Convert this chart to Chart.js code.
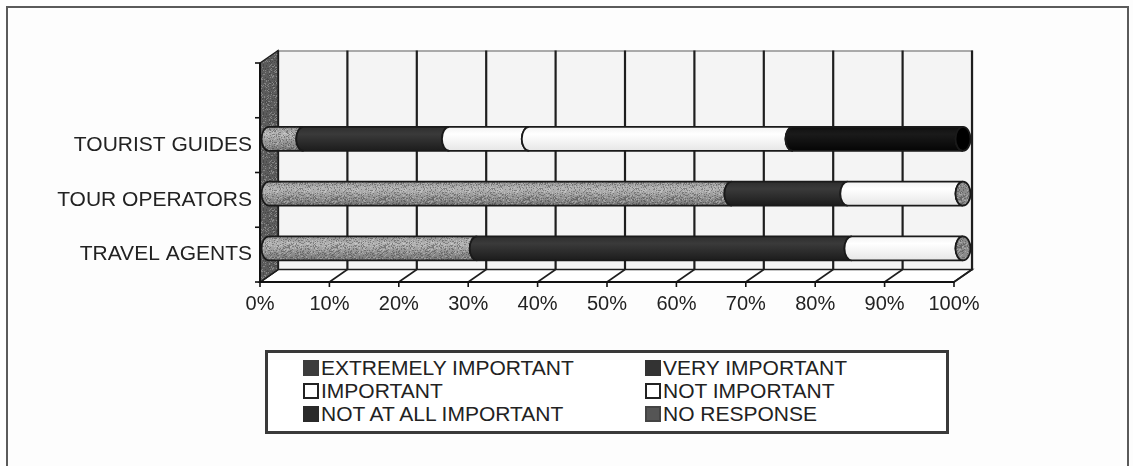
<!DOCTYPE html>
<html>
<head>
<meta charset="utf-8">
<script src="https://cdn.jsdelivr.net/npm/chart.js@4.4.0/dist/chart.umd.min.js"></script>
<style>
  html, body { margin: 0; padding: 0; background: #ffffff; }
  #wrap { position: relative; width: 1133px; height: 466px; overflow: hidden; background: #fdfdfd; }
  #frame { position: absolute; left: 6px; top: 6px; width: 1123px; height: 462px; box-sizing: border-box;
           border: 2px solid #5a5a5a; pointer-events: none; }
  #chart { position: absolute; left: 0; top: 0; }
  #legend { position: absolute; left: 265px; top: 350px; width: 684px; height: 84px; box-sizing: border-box;
            border: 3px solid #3a3a3a; background: #ffffff;
            font-family: "Liberation Sans", Arial, sans-serif; font-size: 21px; color: #222; }
  .item { position: absolute; height: 23px; display: flex; align-items: center; white-space: nowrap; }
  .sw { width: 16px; height: 16px; box-sizing: border-box; margin-right: 2px; flex: none; }
</style>
</head>
<body>
<div id="wrap">
  <canvas id="chart" width="1133" height="466"></canvas>
  <div id="frame"></div>
  <div id="legend"></div>
</div>
<script>
// Survey answers, percent of respondents per group
const categories = ['', 'TOURIST GUIDES', 'TOUR OPERATORS', 'TRAVEL AGENTS'];
const extremelyImportant = [null, 5, 66.7, 30];
const veryImportant      = [null, 21, 16.7, 54];
const important          = [null, 11.5, 16.6, 16];
const notImportant       = [null, 38, 0, 0];
const notAtAllImportant  = [null, 24.5, 0, 0];
const noResponse         = [null, 0, 0, 0];
const seriesNames = ['EXTREMELY IMPORTANT', 'VERY IMPORTANT', 'IMPORTANT',
                     'NOT IMPORTANT', 'NOT AT ALL IMPORTANT', 'NO RESPONSE'];
const tickLabels = ['0%', '10%', '20%', '30%', '40%', '50%', '60%', '70%', '80%', '90%', '100%'];

const seriesData = [extremelyImportant, veryImportant, important, notImportant, notAtAllImportant, noResponse];

// Cylinder shading per series: [top, highlight, bottom, end cap]
const shades = [
  ['#8e8e8e', '#b4b4b4', '#747474', '#6a6a6a'],
  ['#2e2e2e', '#3a3a3a', '#1c1c1c', '#161616'],
  ['#f2f2f2', '#ffffff', '#e6e6e6', '#8a8a8a'],
  ['#f2f2f2', '#ffffff', '#e6e6e6', '#8a8a8a'],
  ['#101010', '#1a1a1a', '#050505', '#000000'],
  ['#808080', '#a0a0a0', '#6a6a6a', '#5a5a5a']
];
const legendSwatch = [
  { fill: '#3c3c3c', border: '#3c3c3c' },
  { fill: '#333333', border: '#333333' },
  { fill: '#ffffff', border: '#222222' },
  { fill: '#ffffff', border: '#222222' },
  { fill: '#2a2a2a', border: '#2a2a2a' },
  { fill: '#555555', border: '#444444' }
];
const speckled = [true, false, false, false, false, true];

const FONT = '"Liberation Sans", Arial, sans-serif';
const DX = 18, DY = -12.5;          // depth of the 3-D box (back wall offset)
const MX = DX / 2, MY = DY / 2;     // bars sit half way into the box

// small deterministic grain texture for the grey surfaces
function makeGrain() {
  const c = document.createElement('canvas');
  c.width = 48; c.height = 48;
  const g = c.getContext('2d');
  for (let yy = 0; yy < 48; yy++) {
    for (let xx = 0; xx < 48; xx++) {
      const h = Math.abs(Math.sin(xx * 12.9898 + yy * 78.233) * 43758.5453) % 1;
      if (h < 0.22) { g.fillStyle = 'rgba(40,40,40,0.35)'; g.fillRect(xx, yy, 1, 1); }
      else if (h > 0.85) { g.fillStyle = 'rgba(255,255,255,0.25)'; g.fillRect(xx, yy, 1, 1); }
    }
  }
  return c;
}
const grainCanvas = makeGrain();

const scenePlugin = {
  id: 'scene3d',
  beforeDatasetsDraw(chart) {
    const { ctx, chartArea: a, scales: { x } } = chart;
    const grain = ctx.createPattern(grainCanvas, 'repeat');
    const L = a.left, R = a.right, T = a.top, B = a.bottom;
    ctx.save();
    // back wall
    ctx.fillStyle = '#f4f4f4';
    ctx.fillRect(L + DX, T + DY, R - L, B - T);
    ctx.strokeStyle = '#777'; ctx.lineWidth = 1.2;
    ctx.strokeRect(L + DX + 0.5, T + DY + 0.5, R - L, B - T);
    // vertical gridlines on the back wall
    ctx.strokeStyle = '#1e1e1e'; ctx.lineWidth = 2.2;
    for (let v = 0; v <= 100; v += 10) {
      const px = x.getPixelForValue(v) + DX;
      ctx.beginPath(); ctx.moveTo(px, T + DY); ctx.lineTo(px, B + DY); ctx.stroke();
    }
    // floor
    ctx.beginPath();
    ctx.moveTo(L, B); ctx.lineTo(R, B); ctx.lineTo(R + DX, B + DY); ctx.lineTo(L + DX, B + DY); ctx.closePath();
    ctx.fillStyle = '#ffffff'; ctx.fill();
    ctx.strokeStyle = '#1e1e1e'; ctx.lineWidth = 1.6; ctx.stroke();
    for (let v = 0; v <= 100; v += 10) {
      const px = x.getPixelForValue(v);
      ctx.beginPath(); ctx.moveTo(px, B); ctx.lineTo(px + DX, B + DY); ctx.stroke();
    }
    // left side wall
    ctx.beginPath();
    ctx.moveTo(L, T); ctx.lineTo(L + DX, T + DY); ctx.lineTo(L + DX, B + DY); ctx.lineTo(L, B); ctx.closePath();
    ctx.fillStyle = '#5c5c5c'; ctx.fill();
    ctx.fillStyle = grain; ctx.fill();
    ctx.strokeStyle = '#1e1e1e'; ctx.lineWidth = 1.4; ctx.stroke();
    // category axis line with ticks at the slot boundaries
    ctx.strokeStyle = '#111'; ctx.lineWidth = 2;
    ctx.beginPath(); ctx.moveTo(L, T); ctx.lineTo(L, B); ctx.stroke();
    const n = categories.length;
    const slot = (B - T) / n;
    ctx.lineWidth = 1.6;
    for (let i = 0; i <= n; i++) {
      const py = T + slot * i;
      ctx.beginPath(); ctx.moveTo(L - 5, py); ctx.lineTo(L, py); ctx.stroke();
    }
    // value axis line with tick marks
    ctx.lineWidth = 2;
    ctx.beginPath(); ctx.moveTo(L, B); ctx.lineTo(R, B); ctx.stroke();
    ctx.lineWidth = 1.6;
    for (let v = 0; v <= 100; v += 10) {
      const px = x.getPixelForValue(v);
      ctx.beginPath(); ctx.moveTo(px, B); ctx.lineTo(px, B + 5); ctx.stroke();
    }
    ctx.restore();
  },
  beforeDatasetDraw() { return false; },
  afterDatasetsDraw(chart) {
    const { ctx } = chart;
    const grain = ctx.createPattern(grainCanvas, 'repeat');
    ctx.save();
    for (let j = 0; j < categories.length; j++) {
      const segs = [];
      chart.data.datasets.forEach((ds, i) => {
        const v = ds.data[j];
        if (v === null || v === undefined || v <= 0) return;
        const el = chart.getDatasetMeta(i).data[j];
        segs.push({ i, x0: el.base + MX, x1: el.x + MX, yc: el.y + MY, h: el.height });
      });
      segs.forEach((s, k) => {
        const ry = s.h / 2, rx = 7.5;
        const top = s.yc - ry, bot = s.yc + ry;
        const sh = shades[s.i];
        const grad = ctx.createLinearGradient(0, top, 0, bot);
        grad.addColorStop(0, sh[0]);
        grad.addColorStop(0.3, sh[1]);
        grad.addColorStop(1, sh[2]);
        ctx.beginPath();
        ctx.moveTo(s.x0, top);
        ctx.lineTo(s.x1, top);
        ctx.ellipse(s.x1, s.yc, rx, ry, 0, -Math.PI / 2, Math.PI / 2, true);
        ctx.lineTo(s.x0, bot);
        ctx.ellipse(s.x0, s.yc, rx, ry, 0, Math.PI / 2, Math.PI * 1.5, false);
        ctx.closePath();
        ctx.fillStyle = grad; ctx.fill();
        if (speckled[s.i]) { ctx.fillStyle = grain; ctx.fill(); }
        ctx.strokeStyle = '#1a1a1a'; ctx.lineWidth = 1.8; ctx.stroke();
        if (k === segs.length - 1) {
          // visible end face of the cylinder
          ctx.beginPath();
          ctx.ellipse(s.x1, s.yc, rx, ry, 0, 0, Math.PI * 2);
          ctx.fillStyle = sh[3]; ctx.fill();
          if (s.i >= 2 && s.i <= 3) { ctx.fillStyle = grain; ctx.fill(); }
          ctx.strokeStyle = '#1a1a1a'; ctx.lineWidth = 1.8; ctx.stroke();
        }
      });
    }
    ctx.restore();
  }
};

new Chart(document.getElementById('chart'), {
  type: 'bar',
  data: {
    labels: categories,
    datasets: seriesNames.map((name, i) => ({
      label: name,
      data: seriesData[i],
      backgroundColor: shades[i][1],
      categoryPercentage: 0.8,
      barPercentage: 0.55
    }))
  },
  options: {
    indexAxis: 'y',
    responsive: false,
    animation: false,
    devicePixelRatio: 1,
    layout: { padding: { left: 8, right: 179, top: 63, bottom: 144 } },
    plugins: { legend: { display: false }, tooltip: { enabled: false } },
    scales: {
      x: {
        stacked: true, min: 0, max: 100,
        grid: { display: false, drawTicks: false }, border: { display: false },
        ticks: {
          stepSize: 10, autoSkip: false, maxRotation: 0, padding: 10,
          color: '#222', font: { family: FONT, size: 20 },
          callback: (v, i) => tickLabels[i]
        },
        afterFit: s => { s.height = 40; }
      },
      y: {
        stacked: true,
        grid: { display: false, drawTicks: false }, border: { display: false },
        ticks: { padding: 8, color: '#222', font: { family: FONT, size: 21 } },
        afterFit: s => { s.width = 252; }
      }
    }
  },
  plugins: [scenePlugin]
});

// legend laid out in two columns, three rows
const legend = document.getElementById('legend');
seriesNames.forEach((name, i) => {
  const col = i % 2, row = Math.floor(i / 2);
  const item = document.createElement('div');
  item.className = 'item';
  item.style.left = (col === 0 ? 35 : 377) + 'px';
  item.style.top = (3.5 + row * 23) + 'px';
  const sw = document.createElement('span');
  sw.className = 'sw';
  sw.style.background = legendSwatch[i].fill;
  sw.style.border = '2px solid ' + legendSwatch[i].border;
  const label = document.createElement('span');
  label.textContent = name;
  item.appendChild(sw);
  item.appendChild(label);
  legend.appendChild(item);
});
</script>
</body>
</html>
